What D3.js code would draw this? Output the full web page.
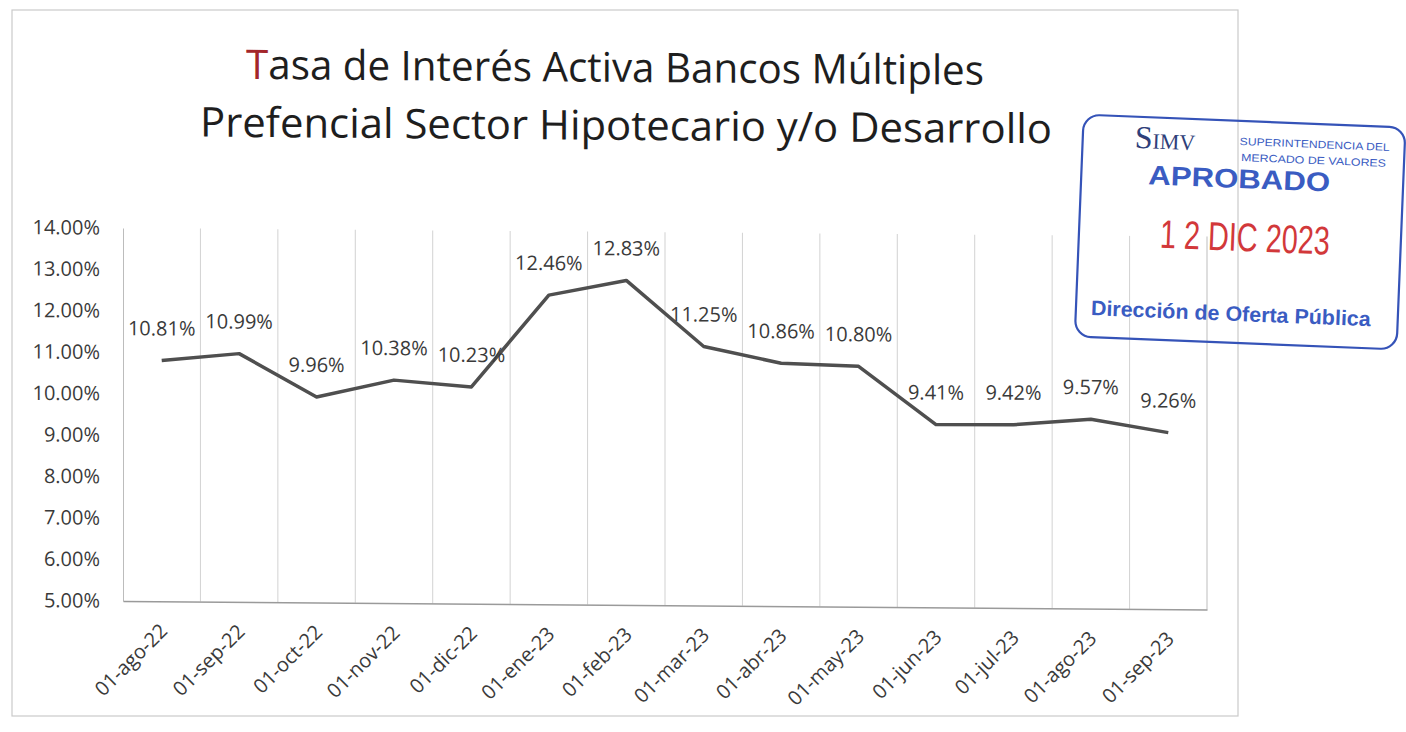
<!DOCTYPE html>
<html>
<head>
<meta charset="utf-8">
<script src="https://cdn.jsdelivr.net/npm/d3@7"></script>
<style>
  body { margin: 0; background: #fff; }
  svg { display: block; font-family: "Open Sans", "Noto Sans", sans-serif; }
</style>
</head>
<body>
<svg id="chart" width="1406" height="732"></svg>
<script>
// data
const categories = ["01-ago-22", "01-sep-22", "01-oct-22", "01-nov-22", "01-dic-22", "01-ene-23", "01-feb-23",
    "01-mar-23", "01-abr-23", "01-may-23", "01-jun-23", "01-jul-23", "01-ago-23", "01-sep-23"];
const values = [10.81, 10.99, 9.96, 10.38, 10.23, 12.46, 12.83, 11.25, 10.86, 10.80, 9.41, 9.42, 9.57, 9.26];
const yTicks = [5, 6, 7, 8, 9, 10, 11, 12, 13, 14];
const titleLines = ["Tasa de Interés Activa Bancos Múltiples", "Prefencial Sector Hipotecario y/o Desarrollo"];

const svg = d3.select("#chart");
const txtColor = "#3a3a3a";

// outer chart frame
svg.append("rect")
    .attr("x", 12).attr("y", 10).attr("width", 1226).attr("height", 706)
    .attr("fill", "none").attr("stroke", "#cacaca").attr("stroke-width", 1.2);

// the scan is slightly sheared, keep that for the chart content
const page = svg.append("g").attr("transform", "skewY(0.45)");

// title
const t1 = page.append("text")
    .attr("x", 615).attr("y", 77).attr("text-anchor", "middle")
    .attr("font-size", 41).attr("fill", "#1e1e1e")
    .attr("textLength", 738).attr("lengthAdjust", "spacingAndGlyphs");
t1.append("tspan").attr("fill", "#a3262a").text(titleLines[0][0]);
t1.append("tspan").text(titleLines[0].slice(1));
page.append("text")
    .attr("x", 626).attr("y", 135).attr("text-anchor", "middle")
    .attr("font-size", 41).attr("fill", "#1e1e1e")
    .attr("textLength", 852).attr("lengthAdjust", "spacingAndGlyphs")
    .text(titleLines[1]);

// scales
const x = d3.scaleBand().domain(categories).range([123, 1207]).padding(0);
const y = d3.scaleLinear().domain([5, 14]).range([600, 227]);

// vertical gridlines at category boundaries
page.append("g").selectAll("line")
    .data(categories.slice(1))
    .join("line")
    .attr("x1", d => x(d)).attr("x2", d => x(d))
    .attr("y1", y(14)).attr("y2", y(5))
    .attr("stroke", "#d2d2d2").attr("stroke-width", 1);

// right edge of plot area
page.append("line")
    .attr("x1", 1207).attr("x2", 1207).attr("y1", y(14)).attr("y2", y(5))
    .attr("stroke", "#bdbdbd");

// y axis
const yAxis = page.append("g")
    .attr("transform", "translate(123,0)")
    .call(d3.axisLeft(y).tickValues(yTicks).tickSize(0).tickPadding(23)
        .tickFormat(d => d3.format(".2f")(d) + "%"));
yAxis.select(".domain").attr("stroke", "#bcbcbc");
yAxis.selectAll("text").attr("fill", txtColor)
    .style("font-size", "20px").style("font-family", "'Open Sans', sans-serif");

// x axis
const xAxis = page.append("g")
    .attr("transform", "translate(0,600)")
    .call(d3.axisBottom(x).tickSize(0).tickFormat(""));
xAxis.select(".domain").attr("stroke", "#9a9a9a").attr("stroke-width", 1.5);
xAxis.selectAll(".tick").append("text")
    .attr("transform", "translate(7,31) rotate(-45)")
    .attr("text-anchor", "end")
    .attr("fill", txtColor)
    .style("font-size", "20px").style("font-family", "'Open Sans', sans-serif")
    .text(d => d);

// line
const cx = d => x(d) + x.bandwidth() / 2;
page.append("path")
    .datum(values)
    .attr("fill", "none")
    .attr("stroke", "#4f4f4f")
    .attr("stroke-width", 3.5)
    .attr("stroke-linejoin", "round")
    .attr("d", d3.line().x((d, i) => cx(categories[i])).y(d => y(d)));

// data labels
page.append("g").selectAll("text")
    .data(values)
    .join("text")
    .attr("x", (d, i) => cx(categories[i]))
    .attr("y", d => y(d) - 25)
    .attr("text-anchor", "middle")
    .attr("font-size", 20).attr("fill", txtColor)
    .text(d => d3.format(".2f")(d) + "%");

// approval stamp over the chart
const stamp = svg.append("g").attr("transform", "rotate(2.3, 1240, 235)");
const blue = "#3a5cc2";
stamp.append("rect")
    .attr("x", 1079).attr("y", 121).attr("width", 322).attr("height", 222).attr("rx", 16)
    .attr("fill", "none").attr("stroke", "#3553b8").attr("stroke-width", 2.2);
const simv = stamp.append("text")
    .attr("x", 1131).attr("y", 152).attr("fill", "#2f3f7a")
    .style("font-family", "'Liberation Serif', 'DejaVu Serif', serif");
simv.append("tspan").style("font-size", "32px").text("S");
simv.append("tspan").style("font-size", "22px").text("IMV");
stamp.append("text")
    .attr("x", 1236).attr("y", 145).attr("fill", blue)
    .style("font-size", "10.5px").style("font-family", "'Liberation Sans', sans-serif")
    .attr("textLength", 150).attr("lengthAdjust", "spacingAndGlyphs")
    .text("SUPERINTENDENCIA DEL");
stamp.append("text")
    .attr("x", 1238).attr("y", 161).attr("fill", blue)
    .style("font-size", "10.5px").style("font-family", "'Liberation Sans', sans-serif")
    .attr("textLength", 145).attr("lengthAdjust", "spacingAndGlyphs")
    .text("MERCADO DE VALORES");
stamp.append("text")
    .attr("x", 1146).attr("y", 188).attr("fill", blue)
    .style("font-size", "27px").style("font-weight", "bold")
    .style("font-family", "'Liberation Sans', sans-serif")
    .attr("textLength", 182).attr("lengthAdjust", "spacingAndGlyphs")
    .text("APROBADO");
stamp.append("text")
    .attr("x", 1160).attr("y", 251).attr("fill", "#d2383a")
    .style("font-size", "40px")
    .style("font-family", "'Liberation Sans Narrow', 'Liberation Sans', sans-serif")
    .attr("textLength", 170).attr("lengthAdjust", "spacingAndGlyphs")
    .text("1 2 DIC 2023");
stamp.append("text")
    .attr("x", 1094).attr("y", 321).attr("fill", blue)
    .style("font-size", "21px").style("font-weight", "bold")
    .style("font-family", "'Liberation Sans', sans-serif")
    .attr("textLength", 280).attr("lengthAdjust", "spacingAndGlyphs")
    .text("Dirección de Oferta Pública");
</script>
</body>
</html>
